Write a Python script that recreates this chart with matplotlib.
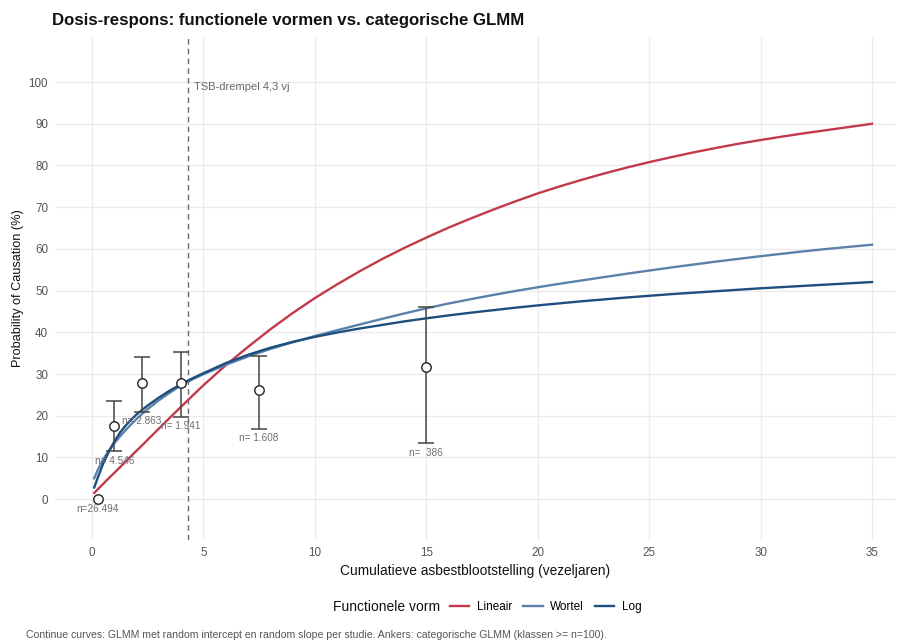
import matplotlib
matplotlib.use("Agg")
import matplotlib.pyplot as plt
from matplotlib.lines import Line2D
import numpy as np

plt.rcParams['font.family'] = ['Liberation Sans', 'DejaVu Sans']

# ---- data ----
curve_x = [0.1, 0.25, 0.5, 0.75, 1, 1.25, 1.5, 1.75, 2, 2.25, 2.5, 3, 3.5, 4, 4.5,
           5, 6, 7, 8, 9, 10, 11, 12, 13, 14, 15, 16, 17, 18, 19, 20,
           21, 22, 23, 24, 25, 26, 27, 28, 29, 30, 31, 32, 33, 34, 35]
lineair = [1.5, 2.3, 3.65, 5.0, 6.3, 7.6, 8.95, 10.3, 11.6, 12.9, 14.25, 16.9, 19.55, 22.15, 24.75,
           27.3, 32.1, 36.5, 40.7, 44.6, 48.2, 51.5, 54.6, 57.5, 60.2, 62.7, 65.1, 67.3, 69.4, 71.4, 73.3,
           75.0, 76.6, 78.1, 79.5, 80.8, 82.0, 83.15, 84.2, 85.2, 86.1, 86.95, 87.75, 88.5, 89.25, 90.0]
wortel = [5.0, 6.9, 9.5, 11.6, 13.4, 15.0, 16.5, 17.9, 19.2, 20.45, 21.6, 23.7, 25.55, 27.3, 28.7,
          29.95, 32.2, 34.2, 36.0, 37.6, 39.1, 40.5, 41.85, 43.2, 44.5, 45.75, 46.9, 47.95, 48.95, 49.9, 50.8,
          51.65, 52.45, 53.25, 54.05, 54.8, 55.55, 56.25, 56.95, 57.6, 58.25, 58.85, 59.45, 60.0, 60.5, 61.0]
log_c = [2.8, 5.0, 8.5, 11.3, 13.8, 15.9, 17.6, 19.0, 20.3, 21.4, 22.45, 24.35, 26.05, 27.55, 28.95,
         30.2, 32.6, 34.6, 36.3, 37.7, 38.9, 39.95, 40.9, 41.75, 42.6, 43.35, 44.05, 44.7, 45.3, 45.9, 46.45,
         46.95, 47.45, 47.9, 48.35, 48.75, 49.15, 49.5, 49.85, 50.2, 50.55, 50.85, 51.15, 51.45, 51.75, 52.05]

anchor_x = [0.25, 1.0, 2.25, 4.0, 7.5, 15.0]
anchor_y = [0.0, 17.5, 27.8, 27.8, 26.1, 31.6]
anchor_lo = [np.nan, 11.5, 21.0, 19.8, 16.9, 13.5]
anchor_hi = [np.nan, 23.5, 34.0, 35.3, 34.2, 46.0]
anchor_n = ["n=26.494", "n= 4.546", "n= 2.863", "n= 1.941", "n= 1.608", "n=  386"]

threshold = 4.3
threshold_label = "TSB-drempel 4,3 vj"
x_ticks = [0, 5, 10, 15, 20, 25, 30, 35]
y_ticks = [0, 10, 20, 30, 40, 50, 60, 70, 80, 90, 100]

col_lin = "#C13A4B"
col_wor = "#5B80AA"
col_log = "#1E4E7E"

W, H = 899, 643
fig = plt.figure(figsize=(W / 100, H / 100), dpi=100)
ax = fig.add_axes([55 / W, 1 - 540 / H, (895 - 55) / W, (540 - 37) / H])

ax.set_xlim(-1.66, 36.03)
ax.set_ylim(-9.8, 110.8)
ax.set_xticks(x_ticks)
ax.set_yticks(y_ticks)
ax.grid(True, color="#EBEBEB", linewidth=1.0)
ax.set_axisbelow(True)
for s in ax.spines.values():
    s.set_visible(False)
ax.tick_params(length=0, labelsize=8.4, labelcolor="#555555", pad=5)

ax.axvline(threshold, color="#6a6a6a", linestyle=(0, (4, 3)), linewidth=1.0, zorder=2)
ax.text(threshold + 0.28, 98.8, threshold_label, fontsize=8, color="#666666", va="center", ha="left")

ax.plot(curve_x, lineair, color=col_lin, lw=1.7, zorder=3, solid_joinstyle="round")
ax.plot(curve_x, wortel, color=col_wor, lw=1.7, zorder=3, solid_joinstyle="round")
ax.plot(curve_x, log_c, color=col_log, lw=1.7, zorder=3, solid_joinstyle="round")

ax_lo = np.array(anchor_lo)
ax_hi = np.array(anchor_hi)
ay = np.array(anchor_y)
ax.errorbar(anchor_x, ay, yerr=[ay - ax_lo, ax_hi - ay], fmt="none",
            ecolor="#454545", elinewidth=1.1, capsize=5.8, capthick=1.1, zorder=4)
ax.plot(anchor_x, anchor_y, "o", markersize=6.8, markerfacecolor="white",
        markeredgecolor="#222222", markeredgewidth=1.0, zorder=5)

for x, y, lo, lab in zip(anchor_x, anchor_y, anchor_lo, anchor_n):
    base = y if np.isnan(lo) else lo
    ax.annotate(lab, (x, base), xytext=(0, -7.0), textcoords="offset points",
                ha="center", va="center", fontsize=7.2, color="#6e6e6e", zorder=6)

ax.set_xlabel("Cumulatieve asbestblootstelling (vezeljaren)", fontsize=9.9, color="#111111", labelpad=4)
ax.set_ylabel("Probability of Causation (%)", fontsize=9.2, color="#111111", labelpad=3)

fig.text(52 / W, 1 - 20 / H, "Dosis-respons: functionele vormen vs. categorische GLMM",
         fontsize=12.1, fontweight="bold", va="center", ha="left", color="#111111")

# legend
fig.text(333 / W, 1 - 607 / H, "Functionele vorm", fontsize=10, va="center", ha="left", color="#111111")
handles = [Line2D([], [], color=col_lin, lw=1.7),
           Line2D([], [], color=col_wor, lw=1.7),
           Line2D([], [], color=col_log, lw=1.7)]
fig.legend(handles, ["Lineair", "Wortel", "Log"], loc="center left",
           bbox_to_anchor=(450 / W, 1 - 607 / H), ncol=3, frameon=False,
           fontsize=8.5, handlelength=1.65, handletextpad=0.65, columnspacing=0.9,
           borderaxespad=0, borderpad=0)

fig.text(26 / W, 1 - 635 / H,
         "Continue curves: GLMM met random intercept en random slope per studie. Ankers: categorische GLMM (klassen >= n=100).",
         fontsize=7.6, color="#555555", va="center", ha="left")

fig.savefig("out.png", dpi=100, facecolor="white")
